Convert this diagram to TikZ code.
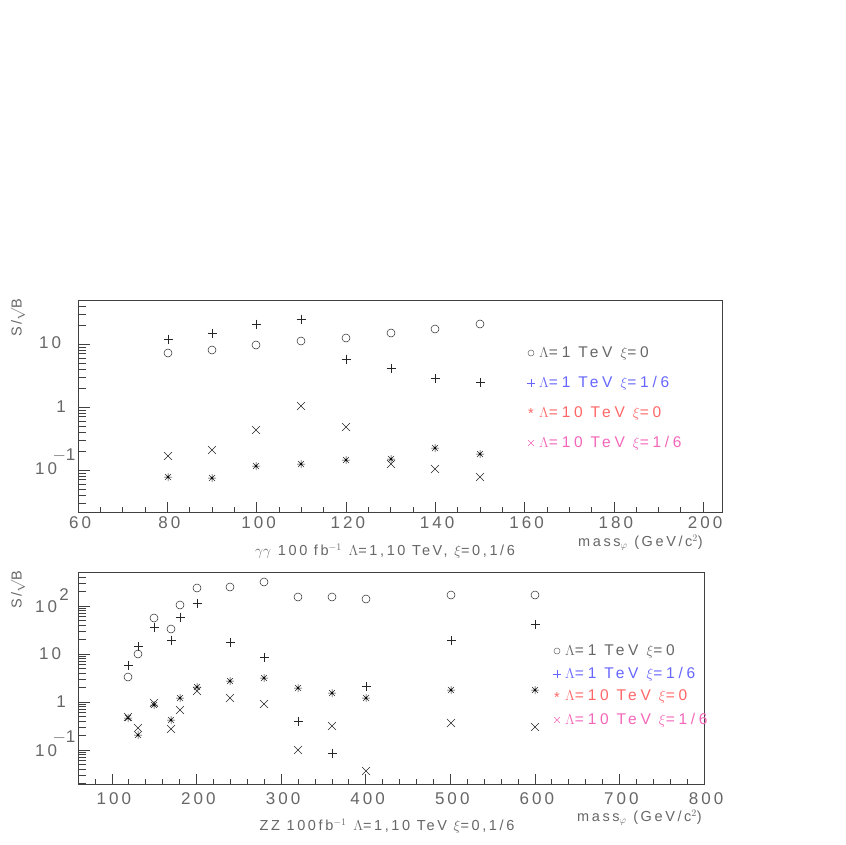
\documentclass[tikz,border=0pt]{standalone}
\usepackage{fontspec}
\setmainfont{Liberation Sans}
\newfontfamily\wide[LetterSpace=18]{Liberation Sans}
\newfontfamily\wider[LetterSpace=24]{Liberation Sans}
\begin{document}
\begin{tikzpicture}[x=1pt,y=-1pt,
  lbl/.style={text=black!60,font=\wide\fontsize{17}{17}\selectfont,inner sep=0pt},
  sm/.style={text=black!60,font=\wide\fontsize{14.5}{14.5}\selectfont,inner sep=0pt},
  lg/.style={font=\wider\fontsize{15.5}{15.5}\selectfont,inner sep=0pt,anchor=west},
  mk/.style={line width=0.5pt,black!85},
  frame/.style={line width=0.6pt,black!75}]
\useasboundingbox (0,0) rectangle (845,845);
\newcommand{\mO}[2]{\draw[mk] (#1,#2) circle (4);}
\newcommand{\mP}[2]{\draw[mk] (#1-4.5,#2) -- (#1+4.5,#2) (#1,#2-4.5) -- (#1,#2+4.5);}
\newcommand{\mX}[2]{\draw[mk] (#1-4,#2-4) -- (#1+4,#2+4) (#1-4,#2+4) -- (#1+4,#2-4);}
\newcommand{\mS}[2]{\draw[mk] (#1-4,#2) -- (#1+4,#2) (#1,#2-4) -- (#1,#2+4) (#1-3,#2-3) -- (#1+3,#2+3) (#1-3,#2+3) -- (#1+3,#2-3); \fill[black] (#1,#2) circle (1.2);}
% ===== top plot =====
\draw[frame] (78,300) rectangle (722,512);
\foreach \m in {60,65,...,200}{\pgfmathsetmacro\px{78+(\m-60)*4.465}\draw[frame] (\px,512) -- (\px,507);}
\foreach \m in {60,80,...,200}{\pgfmathsetmacro\px{78+(\m-60)*4.465}\draw[frame] (\px,512) -- (\px,502);
  \node[lbl] at (\px+2,523) {\m};}
\foreach \d in {-2,-1,0,1}{\foreach \k in {1,...,9}{
  \pgfmathsetmacro\py{407-63*(\d+log10(\k))}
  \pgfmathparse{(\py>300)&&(\py<512)}\ifnum\pgfmathresult=1
  \ifnum\k=1 \draw[frame] (78,\py) -- (90,\py);\else\draw[frame] (78,\py) -- (86,\py);\fi\fi}}
\node[lbl] (t10) at (50,343) {10};
\node[lbl] (t1) at (61,407) {1};
\node[lbl] (tm1) at (46,469) {10};
\node[lbl] at (64,455) {$-$1};
\node[sm,rotate=90] (tyl) at (18,318) {S/$\surd$B};
\node[sm] (txl) at (385,551) {$\gamma\gamma$ 100 fb$^{-1}$ $\Lambda$=1,10 TeV, $\xi$=0,1/6};
\node[sm,anchor=east] (txm) at (703,543) {mass$_\varphi$ (GeV/c$^2$)};
\foreach \x/\o/\p/\s/\c in {168/353/339/477/456,212/350/333/478/450,256/345/324/466/430,301/341/319/464/406,346/338/359/460/427,391/333/368/459/464,435/329/378/448/469,480/324/382/454/477}{
  \mO{\x}{\o}\mP{\x}{\p}\mS{\x}{\s}\mX{\x}{\c}}
% top legend
\draw[black!60,line width=0.5pt] (531,353) circle (3);
\node[lg,text=black!60] (l1) at (539,353) {$\Lambda$=1 TeV $\xi$=0};
\draw[blue!60,line width=0.5pt] (527,383) -- (535,383) (531,379) -- (531,387);
\node[lg,text=blue!60] (l2) at (539,383) {$\Lambda$=1 TeV $\xi$=1/6};
\node[sm,text=red!60] at (531,414) {*};
\node[lg,text=red!60] (l3) at (539,413) {$\Lambda$=10 TeV $\xi$=0};
\draw[magenta!60,line width=0.5pt] (528,440) -- (534,446) (528,446) -- (534,440);
\node[lg,text=magenta!60] (l4) at (539,443) {$\Lambda$=10 TeV $\xi$=1/6};
% ===== bottom plot =====
\draw[frame] (78,572) rectangle (704,784);
\foreach \m in {60,80,...,800}{\pgfmathsetmacro\px{78+(\m-60)*0.846}\draw[frame] (\px,784) -- (\px,779);}
\foreach \m in {100,200,...,800}{\pgfmathsetmacro\px{78+(\m-60)*0.846}\draw[frame] (\px,784) -- (\px,774);
  \node[lbl] at (\px+2,799) {\m};}
\foreach \d in {-2,-1,0,1,2}{\foreach \k in {1,...,9}{
  \pgfmathsetmacro\py{702-48*(\d+log10(\k))}
  \pgfmathparse{(\py>572)&&(\py<784)}\ifnum\pgfmathresult=1
  \ifnum\k=1 \draw[frame] (78,\py) -- (90,\py);\else\draw[frame] (78,\py) -- (86,\py);\fi\fi}}
\node[lbl] (b100) at (46,607) {10};
\node[lbl] at (64,595) {2};
\node[lbl] (b10) at (50,654) {10};
\node[lbl] (b1) at (61,702) {1};
\node[lbl] (bm1) at (46,751) {10};
\node[lbl] at (64,737) {$-$1};
\node[sm,rotate=90] (byl) at (18,590) {S/$\surd$B};
\node[sm] (bxl) at (387,826) {ZZ 100fb$^{-1}$ $\Lambda$=1,10 TeV $\xi$=0,1/6};
\node[sm,anchor=east] (bxm) at (702,818) {mass$_\varphi$ (GeV/c$^2$)};
\foreach \x/\o/\p/\s in {128/677/665/718,138/654/646/735,154/618/627/705,171/629/640/720,180/605/617/698,197/588/603/687,230/587/642/681,264/582/657/678,298/597/721/688,332/597/753/693,366/599/686/698,451/595/640/690,535/595/624/690}{
  \mO{\x}{\o}\mP{\x}{\p}\mS{\x}{\s}}
\foreach \x/\c in {128/717,138/728,154/703,171/729,180/710,197/691,230/698,264/704,298/750,332/726,366/771,451/723,535/727}{\mX{\x}{\c}}
% bottom legend
\draw[black!60,line width=0.5pt] (557,651) circle (3);
\node[lg,text=black!60] (m1) at (565,651) {$\Lambda$=1 TeV $\xi$=0};
\draw[blue!60,line width=0.5pt] (553,674) -- (561,674) (557,670) -- (557,678);
\node[lg,text=blue!60] (m2) at (565,674) {$\Lambda$=1 TeV $\xi$=1/6};
\node[sm,text=red!60] at (557,698) {*};
\node[lg,text=red!60] (m3) at (565,696) {$\Lambda$=10 TeV $\xi$=0};
\draw[magenta!60,line width=0.5pt] (554,717) -- (560,723) (554,723) -- (560,717);
\node[lg,text=magenta!60] (m4) at (565,720) {$\Lambda$=10 TeV $\xi$=1/6};
\end{tikzpicture}
\end{document}
